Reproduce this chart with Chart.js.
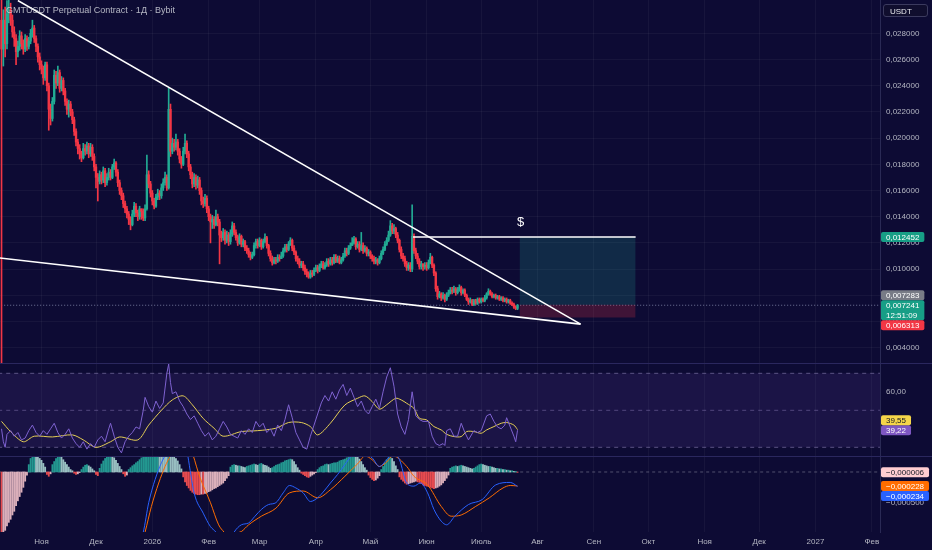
<!DOCTYPE html>
<html>
<head>
<meta charset="utf-8">
<script src="https://cdn.jsdelivr.net/npm/chart.js@4.4.1/dist/chart.umd.min.js"></script>
<style>
  body { margin: 0; width: 932px; height: 550px; overflow: hidden; position: relative; background: #0d0b34; font-family: 'Liberation Sans', Arial, sans-serif; }
  canvas { position: absolute; left: 0; }
  .sep { position: absolute; left: 0; width: 932px; height: 1px; background: #2a275e; }
  #title { position: absolute; left: 6px; top: 5px; font-size: 9px; color: rgba(209, 212, 220, 0.85); white-space: nowrap; }
  #currency { position: absolute; left: 883px; top: 4px; width: 45px; height: 13px; border: 1px solid #3b3a5e; border-radius: 3px; background: #100e2e; color: #e6e7ec; font-size: 8px; line-height: 13px; padding-left: 6px; box-sizing: border-box; }
</style>
</head>
<body>
<canvas id="priceChart" width="932" height="363" style="top:0"></canvas>
<div class="sep" style="top:363px"></div>
<canvas id="rsiChart" width="932" height="92" style="top:364px"></canvas>
<div class="sep" style="top:456px"></div>
<canvas id="macdChart" width="932" height="93" style="top:457px"></canvas>
<div id="title">GMTUSDT Perpetual Contract · 1Д · Bybit</div>
<div id="currency">USDT</div>
<script>
// days are counted from 1 Nov 2025, first candle is 10 Oct 2025
const firstDay = -22;
const firstOpen = 0.0290;

const closeP = [
  0.0268, 0.0290, 0.0272, 0.0295, 0.0298, 0.0290, 0.0281, 0.0276, 0.0266, 0.0270,
  0.0278, 0.0272, 0.0268, 0.0276, 0.0270, 0.0274, 0.0280, 0.0284, 0.0276, 0.0270,
  0.0262, 0.0256, 0.0253, 0.0246, 0.0256, 0.0240, 0.0222, 0.0215, 0.0228, 0.0248,
  0.0242, 0.0250, 0.0238, 0.0244, 0.0236, 0.0228, 0.0222, 0.0226, 0.0220,
  0.0214, 0.0205, 0.0197, 0.0192, 0.0188, 0.0185, 0.0192, 0.0190, 0.0194, 0.0188,
  0.0193, 0.0186, 0.0178, 0.0170, 0.0167, 0.0172, 0.0168, 0.0175, 0.0166, 0.0170,
  0.0174, 0.0170, 0.0178, 0.0181, 0.0174, 0.0166, 0.0160, 0.0156, 0.0150, 0.0146,
  0.0142, 0.0138, 0.0134, 0.0142, 0.0148, 0.0143, 0.0140, 0.0146, 0.0144,
  0.0139, 0.0146, 0.0172, 0.0165, 0.0158, 0.0152, 0.0148, 0.0155, 0.0158, 0.0156,
  0.0162, 0.0166, 0.0170, 0.0162, 0.0222, 0.0190, 0.0196, 0.0193, 0.0197, 0.0190,
  0.0184, 0.0180, 0.0190, 0.0196, 0.0188, 0.0178, 0.0172, 0.0165, 0.0170, 0.0164,
  0.0168, 0.0160, 0.0152, 0.0150, 0.0154, 0.0146, 0.0140, 0.0136, 0.0138,
  0.0134, 0.0140, 0.0136, 0.0126, 0.0124, 0.0128, 0.0122, 0.0126, 0.0121, 0.0127,
  0.0133, 0.0128, 0.0124, 0.0120, 0.0125, 0.0119, 0.0121, 0.0116, 0.0114, 0.0111,
  0.0109, 0.0111, 0.0118, 0.0121, 0.0118, 0.0122, 0.0117, 0.0121, 0.0124, 0.0118,
  0.0112, 0.0108, 0.0105, 0.0107, 0.0106, 0.0109, 0.0108, 0.0110, 0.0114,
  0.0117, 0.0115, 0.0119, 0.0122, 0.0116, 0.0113, 0.0108, 0.0106, 0.0103, 0.0104,
  0.0101, 0.0098, 0.0096, 0.0094, 0.0097, 0.0096, 0.0099, 0.0101, 0.0099, 0.0102,
  0.0104, 0.0101, 0.0103, 0.0106, 0.0104, 0.0107, 0.0105, 0.0109, 0.0106, 0.0108,
  0.0105, 0.0107, 0.0110, 0.0114, 0.0112, 0.0116, 0.0118, 0.0120, 0.0123,
  0.0117, 0.0119, 0.0115, 0.0118, 0.0114, 0.0116, 0.0112, 0.0113, 0.0110, 0.0108,
  0.0106, 0.0107, 0.0105, 0.0108, 0.0112, 0.0115, 0.0119, 0.0122, 0.0126, 0.0133,
  0.0129, 0.0131, 0.0126, 0.0122, 0.0115, 0.0110, 0.0108, 0.0104, 0.0101, 0.0103,
  0.0100, 0.0125, 0.0114, 0.0110, 0.0106, 0.0102, 0.0104, 0.0102, 0.0103,
  0.0101, 0.0105, 0.0109, 0.0103, 0.0097, 0.0085, 0.0079, 0.0081, 0.0078, 0.0080,
  0.0077, 0.0080, 0.0082, 0.0084, 0.0083, 0.0085, 0.0082, 0.0084, 0.0086, 0.0082,
  0.0084, 0.0080, 0.0077, 0.0075, 0.0076, 0.0073, 0.0076, 0.0074, 0.0077, 0.0075,
  0.0077, 0.0076, 0.0078, 0.0081, 0.0083, 0.0081, 0.0079, 0.0080, 0.0078,
  0.0079, 0.0077, 0.0078, 0.0076, 0.0077, 0.0075, 0.0076, 0.0074, 0.0073, 0.0071,
  0.0070, 0.007241
];

const highP = [
  0.0312, 0.0298, 0.0300, 0.0305, 0.0308, 0.0303, 0.0294, 0.0285, 0.0279, 0.0274,
  0.0282, 0.0281, 0.0275, 0.0279, 0.0278, 0.0277, 0.0283, 0.0290, 0.0286, 0.0278,
  0.0272, 0.0265, 0.0259, 0.0255, 0.0258, 0.0258, 0.0242, 0.0226, 0.0231, 0.0252,
  0.0251, 0.0255, 0.0252, 0.0247, 0.0246, 0.0238, 0.0230, 0.0229, 0.0228,
  0.0222, 0.0216, 0.0207, 0.0199, 0.0195, 0.0190, 0.0196, 0.0195, 0.0197, 0.0196,
  0.0196, 0.0195, 0.0188, 0.0180, 0.0173, 0.0175, 0.0174, 0.0178, 0.0177, 0.0173,
  0.0177, 0.0176, 0.0180, 0.0184, 0.0182, 0.0176, 0.0168, 0.0162, 0.0158, 0.0152,
  0.0148, 0.0144, 0.0140, 0.0145, 0.0151, 0.0150, 0.0145, 0.0148, 0.0146,
  0.0146, 0.0149, 0.0187, 0.0175, 0.0167, 0.0160, 0.0154, 0.0157, 0.0161, 0.0160,
  0.0165, 0.0169, 0.0174, 0.0172, 0.0238, 0.0226, 0.0200, 0.0199, 0.0203, 0.0199,
  0.0192, 0.0186, 0.0193, 0.0203, 0.0198, 0.0190, 0.0180, 0.0174, 0.0173, 0.0172,
  0.0171, 0.0170, 0.0162, 0.0155, 0.0157, 0.0156, 0.0148, 0.0142, 0.0141,
  0.0140, 0.0145, 0.0142, 0.0138, 0.0129, 0.0131, 0.0130, 0.0129, 0.0128, 0.0130,
  0.0136, 0.0135, 0.0130, 0.0126, 0.0127, 0.0126, 0.0123, 0.0122, 0.0118, 0.0116,
  0.0113, 0.0113, 0.0120, 0.0123, 0.0123, 0.0124, 0.0123, 0.0123, 0.0127, 0.0125,
  0.0119, 0.0114, 0.0110, 0.0109, 0.0109, 0.0111, 0.0111, 0.0113, 0.0116,
  0.0119, 0.0119, 0.0121, 0.0124, 0.0123, 0.0118, 0.0114, 0.0110, 0.0108, 0.0106,
  0.0106, 0.0103, 0.0100, 0.0098, 0.0099, 0.0099, 0.0101, 0.0103, 0.0103, 0.0104,
  0.0106, 0.0106, 0.0105, 0.0108, 0.0108, 0.0109, 0.0109, 0.0111, 0.0111, 0.0110,
  0.0110, 0.0109, 0.0112, 0.0116, 0.0116, 0.0118, 0.0120, 0.0124, 0.0125,
  0.0124, 0.0121, 0.0121, 0.0128, 0.0120, 0.0118, 0.0117, 0.0115, 0.0114, 0.0111,
  0.0110, 0.0109, 0.0108, 0.0110, 0.0114, 0.0117, 0.0121, 0.0124, 0.0129, 0.0137,
  0.0135, 0.0134, 0.0132, 0.0128, 0.0123, 0.0117, 0.0112, 0.0110, 0.0106, 0.0105,
  0.0105, 0.0149, 0.0127, 0.0116, 0.0112, 0.0108, 0.0106, 0.0104, 0.0105,
  0.0105, 0.0107, 0.0112, 0.0110, 0.0104, 0.0098, 0.0087, 0.0083, 0.0082, 0.0082,
  0.0081, 0.0082, 0.0084, 0.0086, 0.0086, 0.0087, 0.0086, 0.0086, 0.0088, 0.0087,
  0.0085, 0.0085, 0.0081, 0.0078, 0.0078, 0.0077, 0.0077, 0.0077, 0.0078, 0.0078,
  0.0078, 0.0078, 0.0080, 0.0082, 0.0085, 0.0084, 0.0082, 0.0081, 0.0081,
  0.0080, 0.0080, 0.0079, 0.0079, 0.0078, 0.0078, 0.0077, 0.0077, 0.0075, 0.0074,
  0.0072, 0.0073
];

const lowP = [
  0.0020, 0.0255, 0.0262, 0.0268, 0.0288, 0.0286, 0.0277, 0.0270, 0.0256, 0.0262,
  0.0267, 0.0268, 0.0264, 0.0266, 0.0267, 0.0268, 0.0272, 0.0277, 0.0273, 0.0266,
  0.0258, 0.0252, 0.0249, 0.0241, 0.0244, 0.0236, 0.0206, 0.0210, 0.0213, 0.0226,
  0.0238, 0.0240, 0.0235, 0.0236, 0.0233, 0.0225, 0.0218, 0.0216, 0.0217,
  0.0211, 0.0202, 0.0194, 0.0188, 0.0184, 0.0182, 0.0184, 0.0187, 0.0188, 0.0185,
  0.0186, 0.0183, 0.0175, 0.0162, 0.0152, 0.0165, 0.0165, 0.0166, 0.0163, 0.0164,
  0.0168, 0.0168, 0.0169, 0.0176, 0.0171, 0.0163, 0.0157, 0.0153, 0.0147, 0.0143,
  0.0139, 0.0134, 0.0130, 0.0133, 0.0140, 0.0140, 0.0137, 0.0138, 0.0138,
  0.0137, 0.0137, 0.0145, 0.0162, 0.0155, 0.0149, 0.0146, 0.0147, 0.0153, 0.0153,
  0.0154, 0.0160, 0.0164, 0.0160, 0.0161, 0.0186, 0.0188, 0.0190, 0.0191, 0.0187,
  0.0181, 0.0177, 0.0179, 0.0188, 0.0185, 0.0175, 0.0169, 0.0162, 0.0163, 0.0161,
  0.0162, 0.0157, 0.0149, 0.0147, 0.0148, 0.0143, 0.0137, 0.0120, 0.0131,
  0.0131, 0.0133, 0.0133, 0.0104, 0.0121, 0.0122, 0.0119, 0.0120, 0.0118, 0.0119,
  0.0125, 0.0126, 0.0122, 0.0118, 0.0119, 0.0117, 0.0117, 0.0114, 0.0112, 0.0109,
  0.0107, 0.0108, 0.0110, 0.0116, 0.0116, 0.0117, 0.0115, 0.0116, 0.0120, 0.0116,
  0.0110, 0.0106, 0.0103, 0.0104, 0.0104, 0.0105, 0.0106, 0.0108, 0.0109,
  0.0113, 0.0113, 0.0114, 0.0118, 0.0114, 0.0111, 0.0106, 0.0104, 0.0101, 0.0101,
  0.0099, 0.0096, 0.0094, 0.0093, 0.0093, 0.0094, 0.0095, 0.0098, 0.0097, 0.0098,
  0.0101, 0.0100, 0.0100, 0.0102, 0.0102, 0.0103, 0.0103, 0.0104, 0.0105, 0.0105,
  0.0104, 0.0104, 0.0106, 0.0109, 0.0110, 0.0111, 0.0115, 0.0118, 0.0119,
  0.0115, 0.0116, 0.0113, 0.0114, 0.0112, 0.0113, 0.0110, 0.0110, 0.0108, 0.0106,
  0.0104, 0.0104, 0.0103, 0.0104, 0.0107, 0.0111, 0.0114, 0.0118, 0.0121, 0.0125,
  0.0127, 0.0127, 0.0124, 0.0120, 0.0113, 0.0108, 0.0106, 0.0102, 0.0099, 0.0099,
  0.0098, 0.0098, 0.0112, 0.0108, 0.0104, 0.0100, 0.0100, 0.0099, 0.0100,
  0.0099, 0.0100, 0.0104, 0.0101, 0.0095, 0.0083, 0.0077, 0.0078, 0.0076, 0.0077,
  0.0075, 0.0076, 0.0079, 0.0081, 0.0081, 0.0082, 0.0080, 0.0081, 0.0083, 0.0080,
  0.0081, 0.0079, 0.0076, 0.0073, 0.0074, 0.0072, 0.0072, 0.0073, 0.0073, 0.0074,
  0.0074, 0.0075, 0.0075, 0.0077, 0.0080, 0.0080, 0.0078, 0.0078, 0.0077,
  0.0077, 0.0076, 0.0076, 0.0075, 0.0075, 0.0074, 0.0074, 0.0073, 0.0072, 0.0070,
  0.0069, 0.0069
];

// RSI 14 and its moving average, read every couple of days
const rsiDays = [-22,-21,-20,-19,-17,-15,-13,-11,-9,-7,-5,-3,-1,1,3,5,7,9,11,13,15,17,19,21,23,25,27,29,31,33,35,37,38,40,42,44,46,48,50,52,54,56,57,59,61,63,65,67,69,70,71,72,74,76,78,80,82,84,86,88,90,92,94,96,98,100,102,104,106,108,110,112,114,116,118,120,122,124,126,128,130,132,134,136,138,140,142,144,146,148,150,152,154,156,158,160,162,164,166,168,170,172,174,176,178,180,182,184,186,188,190,192,194,196,198,200,202,204,206,208,210,213,215,217,219,221,222,223,225,227,229,231,233,235,238,240,242,245,247,249,251,253,255,256,258,260,261,262];
const rsiVals = [40,33,30,37,39,36,38,34,35,39,42,38,36,39,37,40,43,38,35,37,40,35,32,30,33,29,32,30,34,36,33,40,43,36,30,27,33,36,38,41,40,50,57,52,49,55,51,54,70,75,65,59,60,55,52,48,45,47,43,39,36,38,34,36,40,44,41,37,36,35,39,37,40,38,44,41,43,38,40,36,42,39,45,53,46,38,34,30,29,36,42,48,54,58,55,60,56,61,64,58,62,57,52,55,50,48,52,56,51,60,68,73,63,48,41,37,45,60,47,45,44,44,36,32,31,32,31,39,40,36,36,43,38,34,39,38,39,47,48,44,41,40,42,46,41,36,33,39.22];
const rsiMaDays = [-22,-17,-10,-4,6,17,23,30,38,43,53,59,66,72,78,83,89,95,100,110,119,129,136,143,148,152,159,167,174,178,182,186,190,195,198,201,205,208,212,216,220,223,227,231,234,238,242,245,249,253,256,260,262];
const rsiMaVals = [44,38.5,33,36,35.6,36.7,34,30,33,35.6,34,42,50,55.6,57.8,53,45.6,40.3,36,38.5,39,40.3,43.4,43.4,41.2,36.7,43,52.9,56.5,57.8,54.7,50.6,53,56.5,55.6,53.8,51,45.7,44.8,41.2,39.4,37,35.8,35.8,38.5,38.5,37.6,39.4,41.2,43,43.4,42,39.55];
const rsiUpper = 70, rsiMid = 50, rsiLower = 30;
const rsiTicks = [40, 60];

// MACD (12, 26, 9)
const macdDays = [-22,0,30,50,56,59,62.5,66,68,72,78,80.5,84,89,93,96,100,104,106,110,114,117.5,121,125,129,133,136.5,140,144,148,152,155.5,159,163,167,170.5,174,178,182,186,190,193.5,197,201,205,208.5,212.5,216,220,223,227.5,235,242.5,250,258,262];
const macdVals = [-0.0020,-0.0025,-0.0022,-0.0014,-0.00098,-0.0005,-0.000125,0.00015,0.00027,0.0006,0.0007,0.00027,-0.00034,-0.00067,-0.00089,-0.00098,-0.0012,-0.0011,-0.00098,-0.00086,-0.00083,-0.00072,-0.00061,-0.00053,-0.0005,-0.00034,-0.00022,-0.00026,-0.00034,-0.00048,-0.00042,-0.00031,-0.00018,-0.00004,0.00012,0.00026,0.00032,0.0003,0.00023,0.00009,0.0002,0.0003,0.0002,-0.00018,-0.00023,-0.00018,-0.00034,-0.00061,-0.0008,-0.00086,-0.00072,-0.00053,-0.00045,-0.00021,-0.00017,-0.000234];
const signalDays = [-22,0,30,50,57,60.5,64.5,68,71,76,80,83.5,87,93,97.5,100.5,104,108,110,114,121,129,136.5,144,152,159,167,174.5,178,182,186,189.5,193.5,201,205,212.5,220,225.5,231,239,246.5,254,258,262];
const signalVals = [-0.0015,-0.0024,-0.0023,-0.0017,-0.00098,-0.00056,-0.00018,0.00009,0.00027,0.0006,0.0006,0.00027,-0.00007,-0.0005,-0.00086,-0.00098,-0.0011,-0.00099,-0.00097,-0.00086,-0.00072,-0.00059,-0.00034,-0.00031,-0.00042,-0.00029,-0.00007,0.00015,0.00026,0.0002,0.00009,0.00015,0.00026,0.00009,-0.00007,-0.00021,-0.00056,-0.00072,-0.0007,-0.00056,-0.00042,-0.00026,-0.00022,-0.000228];
const histVals = [
  -0.0011,-0.0010,-0.00095,-0.00088,-0.00082,-0.00077,-0.00070,-0.00064,-0.00055,-0.00047,-0.00040,-0.00033,-0.00025,-0.00015,-0.00005,
  0.00012,0.00022,0.00028,0.00030,0.00029,0.00027,0.00022,0.00019,0.00014,0.00008,
  -0.00004,-0.00007,-0.00003,
  0.00012,0.00017,0.00022,0.00025,0.00026,0.00024,0.00020,0.00016,0.00012,0.00008,0.00004,0.00002,
  -0.00002,-0.00004,-0.00003,-0.00001,
  0.00004,0.00008,0.00011,0.00012,0.00010,0.00008,0.00005,0.00002,
  -0.00004,-0.00006,
  0.00006,0.00013,0.00018,0.00022,0.00025,0.00027,0.00027,0.00026,0.00023,0.00019,0.00014,0.00009,0.00004,
  -0.00003,-0.00007,-0.00005,
  0.00004,0.00007,0.00010,0.00012,0.00015,0.00017,0.00020,0.00023,0.00026,0.00029,0.00032,0.00036,0.00040,0.00044,0.00048,
  0.00050,0.00052,0.00050,0.00047,0.00045,0.00042,0.00040,0.00045,0.00038,0.00030,0.00026,0.00022,0.00018,0.00012,0.00005,
  -0.00008,-0.00016,-0.00022,-0.00026,-0.00030,-0.00033,-0.00035,-0.00036,-0.00037,-0.00037,-0.00036,-0.00036,-0.00035,
  -0.00034,-0.00032,-0.00031,-0.00029,-0.00027,-0.00026,-0.00024,-0.00022,-0.00020,-0.00018,-0.00014,-0.00010,-0.00006,
  0.00008,0.00011,0.00012,0.00011,0.00010,0.00010,0.00009,0.00008,0.00007,0.00009,0.00010,0.00011,0.00012,0.00013,0.00012,
  0.00011,0.00013,0.00014,0.00012,0.00011,0.00010,0.00008,0.00006,0.00007,0.00009,0.00011,0.00012,0.00013,0.00015,0.00016,
  0.00018,0.00019,0.00020,0.00021,0.00020,0.00017,0.00012,0.00007,0.00003,
  -0.00002,-0.00004,-0.00006,-0.00008,-0.00009,-0.00007,-0.00005,-0.00003,-0.00001,
  0.00004,0.00007,0.00009,0.00010,0.00012,0.00013,0.00012,0.00013,0.00014,0.00015,0.00015,0.00016,0.00018,0.00019,
  0.00020,0.00021,0.00023,0.00025,0.00026,0.00027,0.00027,0.00026,0.00024,0.00021,0.00017,0.00012,0.00007,0.00003,
  -0.00005,-0.00009,-0.00012,-0.00014,-0.00013,-0.00010,-0.00006,
  0.00004,0.00009,0.00015,0.00020,0.00023,0.00025,0.00022,0.00017,0.00010,0.00004,
  -0.00008,-0.00012,-0.00015,-0.00018,-0.00020,-0.00019,-0.00018,-0.00017,-0.00016,-0.00015,-0.00016,-0.00017,-0.00019,-0.00021,
  -0.00022,-0.00023,-0.00024,-0.00025,-0.00026,-0.00027,-0.00026,-0.00025,-0.00023,-0.00021,-0.00018,-0.00014,-0.00010,-0.00005,
  0.00006,0.00008,0.00009,0.00010,0.00009,0.00010,0.00011,0.00010,0.00009,0.00008,0.00007,0.00006,0.00005,0.00006,0.00008,
  0.00010,0.00012,0.00013,0.00012,0.00011,0.00010,0.00009,0.00009,0.00008,0.00007,0.00006,0.00006,0.00005,0.00005,0.00004,
  0.00004,0.00003,0.00003,0.00002,0.00002,0.00001,0.00001,-0.000006
];
const macdTicks = [0, -0.0005];

// x axis
const monthTickDays = [0, 30, 61, 92, 120, 151, 181, 212, 242, 273, 304, 334, 365, 395, 426, 457];
const monthTickLabels = ['Ноя', 'Дек', '2026', 'Фев', 'Мар', 'Апр', 'Май', 'Июн', 'Июль', 'Авг', 'Сен', 'Окт', 'Ноя', 'Дек', '2027', 'Фев'];
const dayMin = -22.84, dayMax = 461.5;

// price axis and drawings on the chart
const priceMin = 0.002832, priceMax = 0.030542;
const priceTicks = [0.004, 0.006, 0.008, 0.010, 0.012, 0.014, 0.016, 0.018, 0.020, 0.022, 0.024, 0.026, 0.028];
const upperTrend = [[-13, 0.0305], [296.7, 0.0058]];
const lowerTrend = [[-23, 0.01085], [296.7, 0.0058]];
const targetLineDays = [204.5, 327.0];
const positionDays = [263.1, 327.0];
const entryPrice = 0.007283, targetPrice = 0.012452, stopPrice = 0.006313;
const countdown = '12:51:09';

const upColor = '#22ab94', downColor = '#f23645';
const gridColor = 'rgba(255,255,255,0.045)';
const axisBorder = '#2a2a55';
const tickColor = '#b4b6c2';
const axisWidth = 52;

Chart.defaults.font.family = "'Liberation Sans', Arial, sans-serif";
Chart.defaults.font.size = 8;

const candleDays = closeP.map((c, i) => firstDay + i);
const openP = closeP.map((c, i) => i === 0 ? firstOpen : closeP[i - 1]);
const lastPrice = closeP[closeP.length - 1];
const candleColors = closeP.map((c, i) => c >= openP[i] ? upColor : downColor);

function fmtNum(v, digits) {
  const s = Math.abs(v).toFixed(digits).replace('.', ',');
  return v < 0 ? '\u2212' + s : s;
}

function fullLine(value) {
  return [{ x: dayMin - 1, y: value }, { x: dayMax + 1, y: value }];
}

// no label padding: panes must fill their canvas exactly
function noPadding(s) {
  s.paddingTop = 0; s.paddingBottom = 0; s.paddingLeft = 0; s.paddingRight = 0;
}

function xScale(showLabels) {
  return {
    type: 'linear', min: dayMin, max: dayMax, offset: false, bounds: 'data',
    afterBuildTicks: s => { s.ticks = monthTickDays.map(v => ({ value: v })); },
    afterFit: s => { s.height = showLabels ? 18 : 0; noPadding(s); },
    ticks: {
      display: showLabels, autoSkip: false, maxRotation: 0, padding: 5, color: tickColor,
      callback: (v, i) => monthTickLabels[i]
    },
    grid: { color: gridColor, drawTicks: false, offset: false },
    border: { display: false }
  };
}

function yScale(min, max, ticks, digits, showGrid) {
  return {
    type: 'linear', position: 'right', min: min, max: max, bounds: 'data', beginAtZero: false,
    afterBuildTicks: s => { s.ticks = ticks.map(v => ({ value: v })); },
    afterFit: s => { s.width = axisWidth; noPadding(s); },
    ticks: { color: tickColor, padding: 6, callback: v => fmtNum(v, digits) },
    grid: { display: showGrid, color: gridColor, drawTicks: false },
    border: { display: true, color: axisBorder }
  };
}

function drawTag(ctx, left, top, lines, bg, fg) {
  ctx.save();
  ctx.font = "8px 'Liberation Sans', Arial, sans-serif";
  const w = Math.max(...lines.map(t => ctx.measureText(t).width)) + 10;
  const h = lines.length * 10;
  ctx.fillStyle = bg;
  ctx.beginPath();
  ctx.roundRect(left, top, w, h, 2);
  ctx.fill();
  ctx.fillStyle = fg;
  ctx.textAlign = 'left';
  ctx.textBaseline = 'middle';
  lines.forEach((t, i) => ctx.fillText(t, left + 5, top + 5.5 + i * 10));
  ctx.restore();
}

const priceTags = {
  id: 'priceTags',
  afterDraw(chart) {
    const { ctx, chartArea, scales: { x, y } } = chart;
    const left = chartArea.right + 1;
    const yT = y.getPixelForValue(targetPrice);
    drawTag(ctx, left, yT - 5, [fmtNum(targetPrice, 6)], '#179e86', '#ffffff');
    const lastTop = y.getPixelForValue(lastPrice) - 5;
    drawTag(ctx, left, Math.min(y.getPixelForValue(entryPrice) - 5, lastTop - 10), [fmtNum(entryPrice, 6)], '#787b86', '#ffffff');
    drawTag(ctx, left, lastTop, [fmtNum(lastPrice, 6), countdown], '#179e86', '#ffffff');
    drawTag(ctx, left, Math.max(y.getPixelForValue(stopPrice) - 5, lastTop + 20), [fmtNum(stopPrice, 6)], '#f23645', '#ffffff');
    ctx.save();
    ctx.font = "13px 'Liberation Sans', Arial, sans-serif";
    ctx.fillStyle = '#ffffff';
    ctx.textAlign = 'center';
    ctx.textBaseline = 'middle';
    ctx.fillText('$', x.getPixelForValue(positionDays[0]) + 1, yT - 15);
    ctx.restore();
  }
};

new Chart(document.getElementById('priceChart'), {
  type: 'bar',
  data: {
    datasets: [
      {
        type: 'line', order: 1, data: upperTrend.map(p => ({ x: p[0], y: p[1] })),
        borderColor: '#ffffff', borderWidth: 1.6, pointRadius: 0
      },
      {
        type: 'line', order: 2, data: lowerTrend.map(p => ({ x: p[0], y: p[1] })),
        borderColor: '#ffffff', borderWidth: 1.6, pointRadius: 0
      },
      {
        type: 'line', order: 3, data: targetLineDays.map(d => ({ x: d, y: targetPrice })),
        borderColor: '#ffffff', borderWidth: 1.6, pointRadius: 0
      },
      {
        type: 'bar', order: 4, grouped: false, barThickness: 1.7, minBarLength: 1,
        data: closeP.map((c, i) => ({ x: candleDays[i], y: [openP[i], c] })),
        backgroundColor: candleColors, borderWidth: 0
      },
      {
        type: 'bar', order: 5, grouped: false, barThickness: 1,
        data: closeP.map((c, i) => ({ x: candleDays[i], y: [lowP[i], highP[i]] })),
        backgroundColor: candleColors, borderWidth: 0
      },
      {
        type: 'line', order: 6, data: positionDays.map(d => ({ x: d, y: targetPrice })),
        borderWidth: 0, pointRadius: 0, fill: { value: entryPrice }, backgroundColor: 'rgba(34,171,148,0.2)'
      },
      {
        type: 'line', order: 7, data: positionDays.map(d => ({ x: d, y: stopPrice })),
        borderWidth: 0, pointRadius: 0, fill: { value: entryPrice }, backgroundColor: 'rgba(242,54,69,0.22)'
      },
      {
        type: 'line', order: 8, data: fullLine(lastPrice),
        borderColor: 'rgba(150,158,190,0.75)', borderWidth: 1, borderDash: [1, 2], pointRadius: 0
      }
    ]
  },
  options: {
    responsive: false, animation: false, events: [],
    layout: { padding: 0 },
    plugins: { legend: { display: false }, tooltip: { enabled: false } },
    scales: {
      x: xScale(false),
      y: yScale(priceMin, priceMax, priceTicks, 6, true)
    }
  },
  plugins: [priceTags]
});

const rsiTags = {
  id: 'rsiTags',
  afterDraw(chart) {
    const { ctx, chartArea, scales: { y } } = chart;
    const left = chartArea.right + 1;
    const rsiLast = rsiVals[rsiVals.length - 1];
    const maLast = rsiMaVals[rsiMaVals.length - 1];
    const top = y.getPixelForValue(rsiLast) - 5;
    drawTag(ctx, left, top, [fmtNum(rsiLast, 2)], '#7e57c2', '#ffffff');
    drawTag(ctx, left, Math.min(y.getPixelForValue(maLast) - 5, top - 10), [fmtNum(maLast, 2)], '#f5d64a', '#131722');
  }
};

new Chart(document.getElementById('rsiChart'), {
  type: 'line',
  data: {
    datasets: [
      {
        data: rsiDays.map((d, i) => ({ x: d, y: rsiVals[i] })), order: 1,
        borderColor: '#7e62d0', borderWidth: 1, pointRadius: 0, tension: 0
      },
      {
        data: rsiMaDays.map((d, i) => ({ x: d, y: rsiMaVals[i] })), order: 2,
        borderColor: '#e6cf55', borderWidth: 1, pointRadius: 0, tension: 0.3
      },
      {
        data: fullLine(rsiUpper), order: 3, fill: { value: rsiLower }, backgroundColor: 'rgba(126,87,194,0.13)',
        borderColor: 'rgba(150,140,190,0.55)', borderWidth: 1, borderDash: [4, 4], pointRadius: 0
      },
      {
        data: fullLine(rsiMid), order: 4,
        borderColor: 'rgba(150,140,190,0.45)', borderWidth: 1, borderDash: [4, 4], pointRadius: 0
      },
      {
        data: fullLine(rsiLower), order: 5,
        borderColor: 'rgba(150,140,190,0.55)', borderWidth: 1, borderDash: [4, 4], pointRadius: 0
      }
    ]
  },
  options: {
    responsive: false, animation: false, events: [],
    layout: { padding: 0 },
    plugins: { legend: { display: false }, tooltip: { enabled: false } },
    scales: {
      x: xScale(false),
      y: yScale(25.3, 75.03, rsiTicks, 2, false)
    }
  },
  plugins: [rsiTags]
});

const histColors = histVals.map((v, i) => {
  const prev = i ? histVals[i - 1] : v;
  if (v >= 0) return v >= prev ? 'rgba(38,166,154,0.9)' : 'rgba(178,223,219,0.85)';
  return v <= prev ? 'rgba(255,82,82,0.9)' : 'rgba(255,205,210,0.85)';
});

const macdTags = {
  id: 'macdTags',
  afterDraw(chart) {
    const { ctx, chartArea, scales: { y } } = chart;
    const left = chartArea.right + 1;
    const h = histVals[histVals.length - 1];
    const s = signalVals[signalVals.length - 1];
    const m = macdVals[macdVals.length - 1];
    const hTop = y.getPixelForValue(h) - 5;
    drawTag(ctx, left, hTop, [fmtNum(h, 6)], '#ffcdd2', '#131722');
    const sTop = Math.max(y.getPixelForValue(s) - 5, hTop + 10);
    drawTag(ctx, left, sTop, [fmtNum(s, 6)], '#ff6d00', '#ffffff');
    drawTag(ctx, left, Math.max(y.getPixelForValue(m) - 5, sTop + 10), [fmtNum(m, 6)], '#2962ff', '#ffffff');
  }
};

new Chart(document.getElementById('macdChart'), {
  type: 'bar',
  data: {
    datasets: [
      {
        type: 'line', order: 1, data: macdDays.map((d, i) => ({ x: d, y: macdVals[i] })),
        borderColor: '#2962ff', borderWidth: 1, pointRadius: 0, cubicInterpolationMode: 'monotone'
      },
      {
        type: 'line', order: 2, data: signalDays.map((d, i) => ({ x: d, y: signalVals[i] })),
        borderColor: '#ff6d00', borderWidth: 1, pointRadius: 0, cubicInterpolationMode: 'monotone'
      },
      {
        type: 'bar', order: 3, grouped: false, barThickness: 1.2,
        data: histVals.map((v, i) => ({ x: candleDays[i], y: v })),
        backgroundColor: histColors, borderWidth: 0
      },
      {
        type: 'line', order: 4, data: fullLine(0),
        borderColor: 'rgba(150,150,170,0.5)', borderWidth: 1, borderDash: [3, 3], pointRadius: 0
      }
    ]
  },
  options: {
    responsive: false, animation: false, events: [],
    layout: { padding: 0 },
    plugins: { legend: { display: false }, tooltip: { enabled: false } },
    scales: {
      x: xScale(true),
      y: yScale(-0.000977, 0.000244, macdTicks, 6, false)
    }
  },
  plugins: [macdTags]
});
</script>
</body>
</html>
